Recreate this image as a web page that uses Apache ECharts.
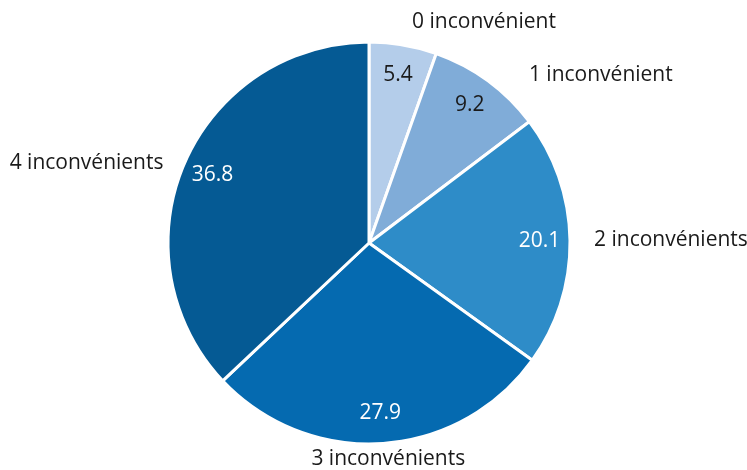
<!DOCTYPE html>
<html><head><meta charset="utf-8">
<script src="https://cdn.jsdelivr.net/npm/echarts@6/dist/echarts.min.js"></script>
<style>html,body{margin:0;padding:0;background:#fff}#c{width:747px;height:470px}</style>
</head><body><div id="c"></div>
<script>
const categories = ['0 inconvénient', '1 inconvénient', '2 inconvénients', '3 inconvénients', '4 inconvénients'];
const values = [5.4, 9.2, 20.1, 27.9, 36.8];

const sliceColors = ['#b4cdea', '#80acd8', '#2e8cc8', '#056ab0', '#055a94'];
const valueLabelColors = ['#1a1a1a', '#1a1a1a', '#ffffff', '#ffffff', '#ffffff'];
const nameLineLen = [23, 7, 0, 15, 0];
const nameLineLen2 = [0, 32, 19, 0, 16];
const nameAlign = [null, null, null, 'center', null];

const FONT = 'Open Sans';
const chart = echarts.init(document.getElementById('c'), null, {renderer: 'canvas'});

const mainData = categories.map((c, i) => ({
  name: c, value: values[i],
  itemStyle: {color: sliceColors[i]},
  labelLine: {show: false, length: nameLineLen[i], length2: nameLineLen2[i]}
}));
const valueData = categories.map((c, i) => ({
  name: c, value: values[i],
  label: {color: valueLabelColors[i]}
}));

chart.setOption({
  animation: false,
  series: [
    {
      type: 'pie', center: [369, 243], radius: [0, 201], startAngle: 90, clockwise: true,
      avoidLabelOverlap: false,
      itemStyle: {borderColor: '#ffffff', borderWidth: 3},
      label: {show: true, position: 'outside', formatter: '{b}', fontFamily: FONT, fontSize: 21, color: '#1a1a1a', distanceToLabelLine: 5},
      labelLayout: function (p) { const a = nameAlign[p.dataIndex]; return a ? {align: a} : {}; },
      emphasis: {disabled: true},
      data: mainData
    },
    {
      type: 'pie', center: [369, 243], radius: [134, 201], startAngle: 90, clockwise: true,
      silent: true, avoidLabelOverlap: false,
      itemStyle: {color: 'rgba(0,0,0,0)', borderWidth: 0},
      label: {show: true, position: 'inside', formatter: '{c}', fontFamily: FONT, fontSize: 21},
      labelLine: {show: false},
      emphasis: {disabled: true},
      data: valueData
    }
  ]
});
</script></body></html>
